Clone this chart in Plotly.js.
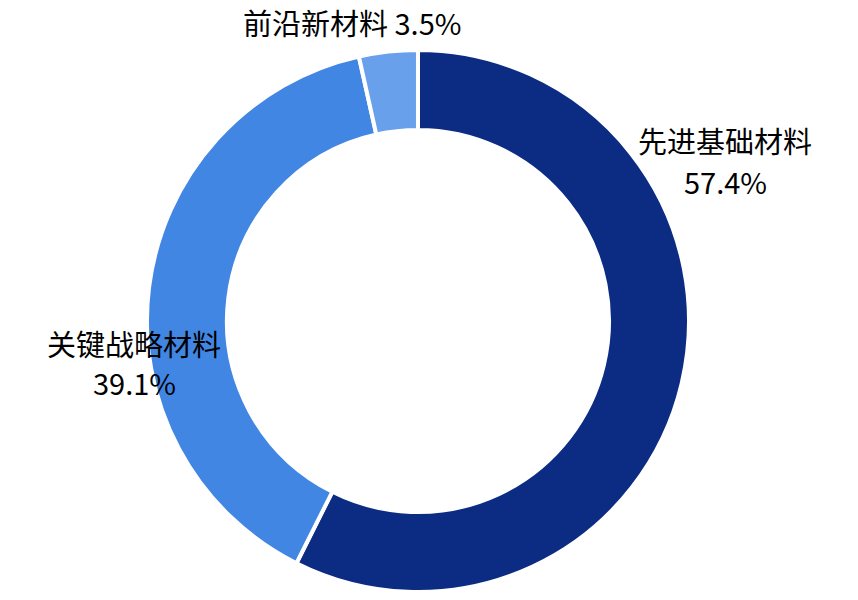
<!DOCTYPE html>
<html><head><meta charset="utf-8">
<script src="https://cdn.plot.ly/plotly-3.0.1.min.js"></script>
<style>html,body{margin:0;padding:0;background:#fff;}#chart{width:858px;height:600px;}</style>
</head><body><div id="chart"></div>
<script>
const categories = ["先进基础材料", "关键战略材料", "前沿新材料"];
const shares = [57.4, 39.1, 3.5];
const colors = ["#0b2c82", "#4286e4", "#69a0ec"];

const font = "'Noto Sans CJK SC', 'Noto Sans', sans-serif";
const fmt = v => v.toFixed(1) + "%";

const trace = {
  type: "pie",
  labels: categories,
  values: shares,
  hole: 0.705,
  sort: false,
  direction: "clockwise",
  rotation: 0,
  textinfo: "none",
  hoverinfo: "label+percent",
  marker: {colors: colors, line: {color: "#ffffff", width: 4}},
  domain: {x: [0.1713, 0.8030], y: [0.0133, 0.9167]},
  showlegend: false
};

function ann(text, px, py) {
  return {text: text, x: px/858, y: 1 - py/600, xref: "paper", yref: "paper",
          showarrow: false, xanchor: "center", yanchor: "middle"};
}

const layout = {
  width: 858, height: 600,
  margin: {l: 0, r: 0, t: 0, b: 0},
  paper_bgcolor: "#ffffff",
  font: {family: font, size: 29, color: "#000000"},
  annotations: [
    ann(categories[2] + " " + fmt(shares[2]), 352, 22),
    ann(categories[0], 725, 140),
    ann(fmt(shares[0]), 725, 181),
    ann(categories[1], 134, 343),
    ann(fmt(shares[1]), 134, 382)
  ]
};

Plotly.newPlot("chart", [trace], layout, {displayModeBar: false, staticPlot: true});
</script></body></html>
